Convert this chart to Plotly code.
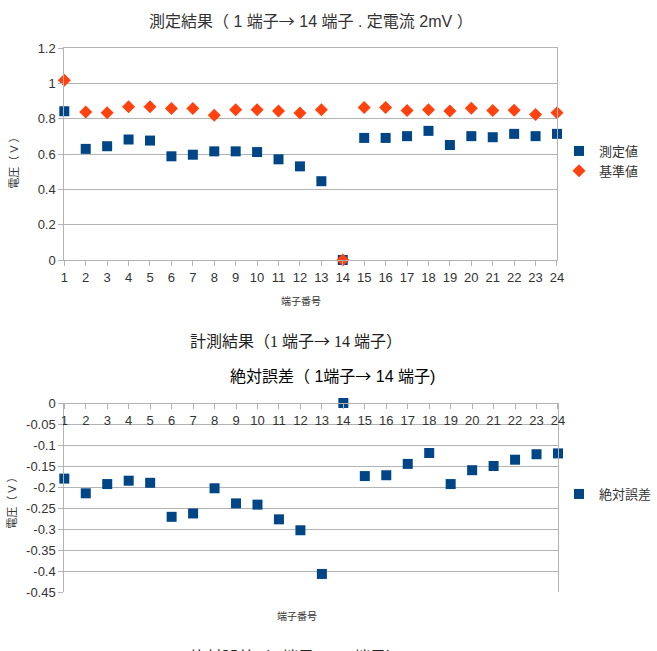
import plotly.graph_objects as go

terminals = list(range(1, 25))
measured = [0.842, 0.629, 0.644, 0.682, 0.676, 0.587, 0.596, 0.615, 0.615, 0.611, 0.570, 0.530,
            0.446, 0.0, 0.691, 0.691, 0.701, 0.731, 0.651, 0.701, 0.695, 0.714, 0.701, 0.714]
reference = [1.018, 0.838, 0.834, 0.867, 0.867, 0.857, 0.857, 0.819, 0.851, 0.851, 0.844, 0.832,
             0.851, 0.0, 0.863, 0.863, 0.846, 0.850, 0.844, 0.859, 0.846, 0.848, 0.823, 0.834]
abs_error = [-0.180, -0.215, -0.193, -0.185, -0.190, -0.271, -0.263, -0.203, -0.239, -0.242, -0.277, -0.303,
             -0.407, 0.0, -0.174, -0.172, -0.145, -0.119, -0.193, -0.160, -0.150, -0.135, -0.122, -0.120]

y1_ticks = [0, 0.2, 0.4, 0.6, 0.8, 1, 1.2]
y2_ticks = [0, -0.05, -0.1, -0.15, -0.2, -0.25, -0.3, -0.35, -0.4, -0.45]

W, H = 657, 651
BLUE = "#004586"
ORANGE = "#ff420e"
GRID = "#b3b3b3"
TXT = "#333333"
FONT = "Liberation Sans, Noto Sans CJK JP, sans-serif"
CJK = "Noto Sans CJK JP"
SERIF = "Liberation Serif, Noto Sans CJK JP, serif"
ARROW = '<span style="font-family:Noto Sans CJK JP">→</span>'

def px(x):
    return x / W

def py(y):
    return 1 - y / H

fig = go.Figure()
fig.add_trace(go.Scatter(x=terminals, y=measured, mode="markers", name="測定値",
                         marker=dict(symbol="square", size=10, color=BLUE),
                         cliponaxis=False, xaxis="x", yaxis="y", legend="legend"))
fig.add_trace(go.Scatter(x=terminals, y=reference, mode="markers", name="基準値",
                         marker=dict(symbol="diamond", size=10, color=ORANGE),
                         cliponaxis=False, xaxis="x", yaxis="y", legend="legend"))
fig.add_trace(go.Scatter(x=terminals, y=abs_error, mode="markers", name="絶対誤差",
                         marker=dict(symbol="square", size=10, color=BLUE),
                         cliponaxis=False, xaxis="x2", yaxis="y2", legend="legend2"))

tickfont = dict(family=FONT, size=13, color=TXT)
common = dict(showline=True, linecolor=GRID, linewidth=1, tickfont=tickfont, ticklen=5,
              tickcolor=GRID, automargin=False, zeroline=False)

fig.update_layout(
    width=W, height=H, margin=dict(l=0, r=0, t=0, b=0),
    paper_bgcolor="white", plot_bgcolor="white",
    font=dict(family=FONT, color=TXT),
    xaxis=dict(domain=[px(65), px(563)], range=[1, 24], tickvals=terminals, mirror=True,
               ticks="outside", showgrid=False, anchor="y", **common),
    yaxis=dict(domain=[py(260), py(48)], range=[0, 1.2], tickvals=y1_ticks, mirror=True,
               ticks="outside", showgrid=True, gridcolor=GRID, anchor="x", **common),
    xaxis2=dict(domain=[px(65), px(564)], range=[1, 24], tickvals=terminals,
                anchor="free", position=py(403), side="bottom", ticks="outside",
                showgrid=False, **common),
    xaxis3=dict(domain=[px(65), px(564)], range=[1, 24], overlaying="x2", anchor="y2",
                side="bottom", showline=True, linecolor=GRID, showticklabels=False,
                ticks="", showgrid=False, zeroline=False),
    yaxis2=dict(domain=[py(592), py(403)], range=[-0.45, 0], tickvals=y2_ticks,
                ticktext=[("%g" % v) for v in y2_ticks], mirror=True,
                ticks="outside", showgrid=True, gridcolor=GRID, anchor="x2", **common),
    legend=dict(x=px(565), y=py(161), xanchor="left", yanchor="middle",
                font=dict(family=FONT, size=13, color=TXT), bgcolor="rgba(0,0,0,0)",
                itemwidth=30, tracegroupgap=0),
    legend2=dict(x=px(565), y=py(494), xanchor="left", yanchor="middle",
                 font=dict(family=FONT, size=13, color=TXT), bgcolor="rgba(0,0,0,0)",
                 itemwidth=30),
)

annots = [
    dict(text="測定結果（ 1 端子" + ARROW + " 14 端子 . 定電流 2mV ）", x=px(314), y=py(20),
         font=dict(family=FONT, size=16, color=TXT)),
    dict(text="端子番号", x=px(304), y=py(301), font=dict(family=FONT, size=10, color=TXT)),
    dict(text="電圧（ V ）", x=px(14), y=py(160), textangle=-90,
         font=dict(family=FONT, size=11, color=TXT)),
    dict(text="計測結果（1 端子" + ARROW + " 14 端子）", x=px(299), y=py(340),
         font=dict(family=SERIF, size=16, color="#222222")),
    dict(text="絶対誤差（ 1端子" + ARROW + " 14 端子)", x=px(336), y=py(375),
         font=dict(family=FONT, size=16, color="#000000")),
    dict(text="端子番号", x=px(300), y=py(616), font=dict(family=FONT, size=10, color=TXT)),
    dict(text="電圧（ V ）", x=px(12), y=py(500), textangle=-90,
         font=dict(family=FONT, size=11, color=TXT)),
    dict(text="絶対誤差（1 端子" + ARROW + " 14 端子）", x=px(299), y=py(656),
         font=dict(family=SERIF, size=16, color="#222222")),
]
for a in annots:
    fig.add_annotation(xref="paper", yref="paper", showarrow=False,
                       xanchor="center", yanchor="middle", **a)

fig.write_html("out.html")
